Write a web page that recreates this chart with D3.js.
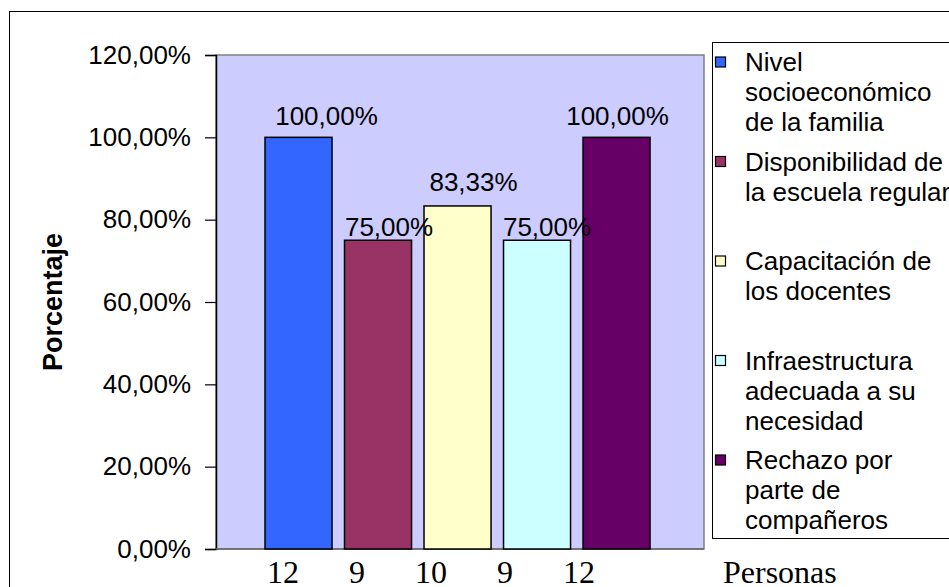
<!DOCTYPE html>
<html>
<head>
<meta charset="utf-8">
<script src="https://cdn.jsdelivr.net/npm/d3@7"></script>
<style>
  html, body { margin: 0; padding: 0; background: #fff; }
  svg { display: block; }
</style>
</head>
<body>
<svg id="chart" width="949" height="587"></svg>
<script>
// ---- data ----
const seriesNames = [
  "Nivel\nsocioeconómico\nde la familia",
  "Disponibilidad de\nla escuela regular",
  "Capacitación de\nlos docentes",
  "Infraestructura\nadecuada a su\nnecesidad",
  "Rechazo por\nparte de\ncompañeros"
];
const values = [1.00, 0.75, 0.8333, 0.75, 1.00];
const counts = ["12", "9", "10", "9", "12"];
const yTicks = [0, 0.2, 0.4, 0.6, 0.8, 1.0, 1.2];
const colors = ["#3366FF", "#993366", "#FFFFCC", "#CCFFFF", "#660066"];
const yTitle = "Porcentaje";
const xTitle = "Personas";

// ---- layout ----
const svg = d3.select("#chart");
const plot = { left: 216, top: 55, right: 704, bottom: 549 };
const labelNudgeX = [28, 11, 16, 10, 1];
const labelGap = [12, 4, 15, 4, 12];

const locale = d3.formatLocale({ decimal: ",", thousands: ".", grouping: [3], currency: ["", "€"] });
const pct = locale.format(".2%");

const y = d3.scaleLinear().domain([0, 1.2]).range([plot.bottom, plot.top]);
const x = d3.scaleBand().domain(d3.range(values.length))
  .range([plot.left, plot.right]).paddingInner(0.157).paddingOuter(0.6476).align(0.476);
const xCount = d3.scalePoint().domain(d3.range(counts.length)).range([283, 579]);

// outer frame
svg.append("rect").attr("x", 9.5).attr("y", 11.5).attr("width", 960).attr("height", 600)
  .attr("fill", "#fff").attr("stroke", "#000").attr("stroke-width", 1);

// plot area
svg.append("rect").attr("x", plot.left).attr("y", plot.top)
  .attr("width", plot.right - plot.left).attr("height", plot.bottom - plot.top)
  .attr("fill", "#CCCCFF").attr("stroke", "#808080").attr("stroke-width", 1.5);

// y axis
const yAxis = d3.axisLeft(y).tickValues(yTicks).tickFormat(pct).tickSize(11).tickPadding(14);
const gy = svg.append("g").attr("transform", `translate(${plot.left},0)`).call(yAxis);
gy.select(".domain").attr("stroke", "#000").attr("stroke-width", 1.5);
gy.selectAll(".tick line").attr("stroke", "#000").attr("stroke-width", 1.2);
gy.selectAll(".tick text")
  .attr("font-family", "'Liberation Sans', Arial, sans-serif")
  .attr("font-size", 26).attr("fill", "#000");

// bottom axis line
svg.append("line").attr("x1", plot.left).attr("x2", plot.right)
  .attr("y1", y(0)).attr("y2", y(0)).attr("stroke", "#666").attr("stroke-width", 1.5);

// bars
svg.append("g").selectAll("rect").data(values).join("rect")
  .attr("x", (d, i) => x(i))
  .attr("y", d => y(d))
  .attr("width", x.bandwidth())
  .attr("height", d => y(0) - y(d))
  .attr("fill", (d, i) => colors[i])
  .attr("stroke", "#000").attr("stroke-width", 1.5);

// value labels
svg.append("g").selectAll("text").data(values).join("text")
  .attr("x", (d, i) => x(i) + x.bandwidth() / 2 + labelNudgeX[i])
  .attr("y", (d, i) => y(d) - labelGap[i])
  .attr("text-anchor", "middle")
  .attr("font-family", "'Liberation Sans', Arial, sans-serif")
  .attr("font-size", 26).attr("fill", "#000")
  .text(d => pct(d));

// count labels
svg.append("g").selectAll("text").data(counts).join("text")
  .attr("x", (d, i) => xCount(i))
  .attr("y", 583)
  .attr("text-anchor", "middle")
  .attr("font-family", "'Liberation Serif', 'Times New Roman', serif")
  .attr("font-size", 32).attr("fill", "#000")
  .text(d => d);

svg.append("text").attr("x", 723).attr("y", 583)
  .attr("font-family", "'Liberation Serif', 'Times New Roman', serif")
  .attr("font-size", 32).attr("fill", "#000").text(xTitle);

// y title
svg.append("text")
  .attr("transform", `translate(62,${(plot.top + plot.bottom) / 2}) rotate(-90)`)
  .attr("text-anchor", "middle")
  .attr("font-family", "'Liberation Sans', Arial, sans-serif")
  .attr("font-weight", "bold").attr("font-size", 27).attr("fill", "#000")
  .text(yTitle);

// legend
const legend = svg.append("g");
legend.append("rect").attr("x", 712.5).attr("y", 42.5).attr("width", 260).attr("height", 496)
  .attr("fill", "#fff").attr("stroke", "#000").attr("stroke-width", 1);
const entryStep = 99.5, firstY = 62, lineH = 30;
seriesNames.forEach((name, i) => {
  const cy = firstY + i * entryStep;
  legend.append("rect").attr("x", 715.5).attr("y", cy - 5).attr("width", 10).attr("height", 10)
    .attr("fill", colors[i]).attr("stroke", "#000").attr("stroke-width", 1.2);
  name.split("\n").forEach((line, j) => {
    legend.append("text").attr("x", 745).attr("y", cy + j * lineH)
      .attr("dy", "0.36em")
      .attr("font-family", "'Liberation Sans', Arial, sans-serif")
      .attr("font-size", 26).attr("fill", "#000")
      .text(line);
  });
});
</script>
</body>
</html>
